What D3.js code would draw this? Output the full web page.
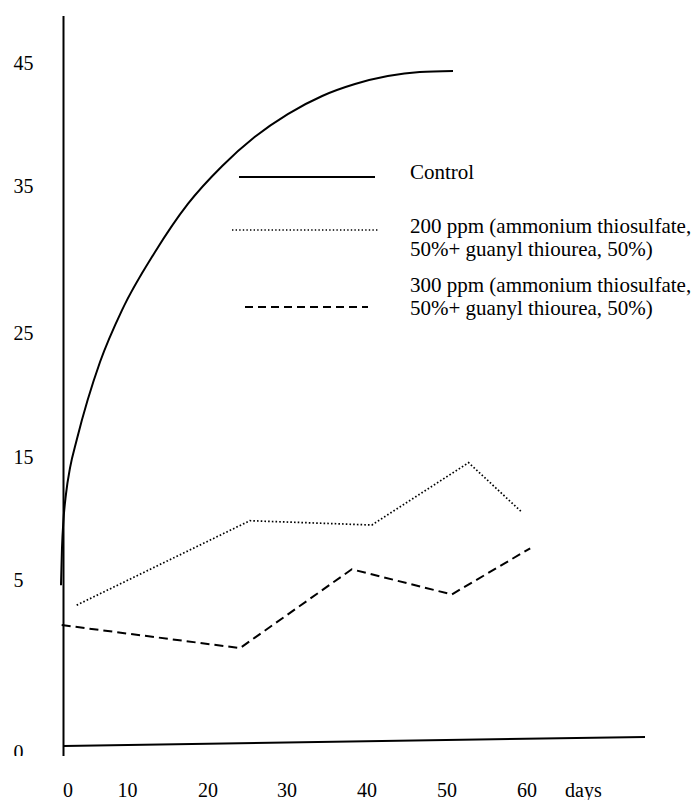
<!DOCTYPE html>
<html>
<head>
<meta charset="utf-8">
<script src="https://d3js.org/d3.v7.min.js"></script>
<style>
    body { margin: 0; background: #ffffff; }
</style>
</head>
<body>
<div id="chart"></div>
<script>
// tick labels as printed on the figure (spacing on the original is uneven)
var y_ticks = [0, 5, 15, 25, 35, 45];
var x_ticks = [0, 10, 20, 30, 40, 50, 60];
var x_unit_label = "days";

// Control (smooth curve)
var control_days = [-1.18, -1.01, -0.76, -0.34, 0.34, 1.46, 5.38, 9.08, 13.42, 17.5, 21.8, 25.9, 30.1, 34.4, 38.5, 42.6, 46.6, 50.75];
var control_values = [4.85, 7.60, 9.88, 11.99, 14.11, 16.37, 22.66, 26.56, 30.51, 33.78, 36.63, 38.98, 40.85, 42.32, 43.29, 43.94, 44.27, 44.35];

// 200 ppm
var ppm200_days = [1.46, 25.3, 40.6, 52.7, 59.3];
var ppm200_values = [4.27, 9.82, 9.47, 14.54, 10.55];

// 300 ppm
var ppm300_days = [-1.06, 24.05, 38.1, 50.6, 60.4];
var ppm300_values = [3.69, 3.02, 5.87, 4.58, 7.58];

var legend_labels = [
    ["Control"],
    ["200 ppm (ammonium thiosulfate,", "50%+ guanyl thiourea, 50%)"],
    ["300 ppm (ammonium thiosulfate,", "50%+ guanyl thiourea, 50%)"]
];

var width = 697;
var height = 800;
var serif_font = "'Liberation Serif', 'Times New Roman', 'DejaVu Serif', serif";

var svg = d3.select("#chart").append("svg")
            .attr("width", width)
            .attr("height", height)
            .attr("font-family", serif_font);

// piecewise scales so each printed tick sits where it was drawn
var x_scale = d3.scaleLinear()
                .domain(x_ticks)
                .range([68, 127.5, 208, 287, 367, 447, 527]);

var y_scale = d3.scaleLinear()
                .domain(y_ticks)
                .range([752, 580, 457, 333, 186, 63]);

draw_axes();
draw_series(control_days, control_values, d3.curveMonotoneX, 2, null);
draw_series(ppm200_days, ppm200_values, d3.curveLinear, 1.7, "1.6,2.1");
draw_series(ppm300_days, ppm300_values, d3.curveLinear, 2, "9,5");
draw_legend();

function draw_axes()
{
    // hand drawn axes: vertical line and slightly tilted base line
    svg.append("line")
       .attr("x1", 63.5).attr("y1", 16)
       .attr("x2", 63.5).attr("y2", 756)
       .attr("stroke", "#000").attr("stroke-width", 2);

    svg.append("line")
       .attr("x1", 64).attr("y1", 746)
       .attr("x2", 645).attr("y2", 737)
       .attr("stroke", "#000").attr("stroke-width", 2);

    svg.append("clipPath")
       .attr("id", "tick-clip")
       .append("rect")
       .attr("x", 0).attr("y", 0)
       .attr("width", 60).attr("height", 756);

    svg.append("g")
       .attr("clip-path", "url(#tick-clip)")
       .selectAll("text")
       .data(y_ticks)
       .enter()
       .append("text")
       .attr("x", 13.5)
       .attr("y", function (d) { return y_scale(d) + 6.8; })
       .attr("font-size", 20)
       .text(function (d) { return d; });

    svg.append("g")
       .selectAll("text")
       .data(x_ticks)
       .enter()
       .append("text")
       .attr("x", function (d) { return x_scale(d); })
       .attr("y", 797)
       .attr("text-anchor", "middle")
       .attr("font-size", 20)
       .text(function (d) { return d; });

    svg.append("text")
       .attr("x", 565)
       .attr("y", 797)
       .attr("font-size", 20)
       .text(x_unit_label);
}

function draw_series(days, values, curve, stroke_width, dash)
{
    var points = days.map(function (d, i) { return [d, values[i]]; });

    var line = d3.line()
                 .x(function (p) { return x_scale(p[0]); })
                 .y(function (p) { return y_scale(p[1]); })
                 .curve(curve);

    var path = svg.append("path")
                  .datum(points)
                  .attr("d", line)
                  .attr("fill", "none")
                  .attr("stroke", "#000")
                  .attr("stroke-width", stroke_width);

    if (dash !== null)
    {
        path.attr("stroke-dasharray", dash);
    }
}

function draw_legend()
{
    var legend_rows = [
        {x1: 239, x2: 375, y: 177, width: 2, dash: null, text_y: 179},
        {x1: 232, x2: 378, y: 230, width: 1.5, dash: "1.4,2.2", text_y: 233},
        {x1: 245, x2: 368, y: 307, width: 2, dash: "8,5", text_y: 292}
    ];

    for (var index in legend_rows)
    {
        var row = legend_rows[index];

        var sample = svg.append("line")
                        .attr("x1", row.x1).attr("y1", row.y)
                        .attr("x2", row.x2).attr("y2", row.y)
                        .attr("stroke", "#000")
                        .attr("stroke-width", row.width);

        if (row.dash !== null)
        {
            sample.attr("stroke-dasharray", row.dash);
        }

        var label = svg.append("text")
                       .attr("x", 410)
                       .attr("y", row.text_y)
                       .attr("font-size", 21);

        legend_labels[index].forEach(function (part, i) {
            label.append("tspan")
                 .attr("x", 410)
                 .attr("dy", i === 0 ? 0 : 23)
                 .text(part);
        });
    }
}
</script>
</body>
</html>
